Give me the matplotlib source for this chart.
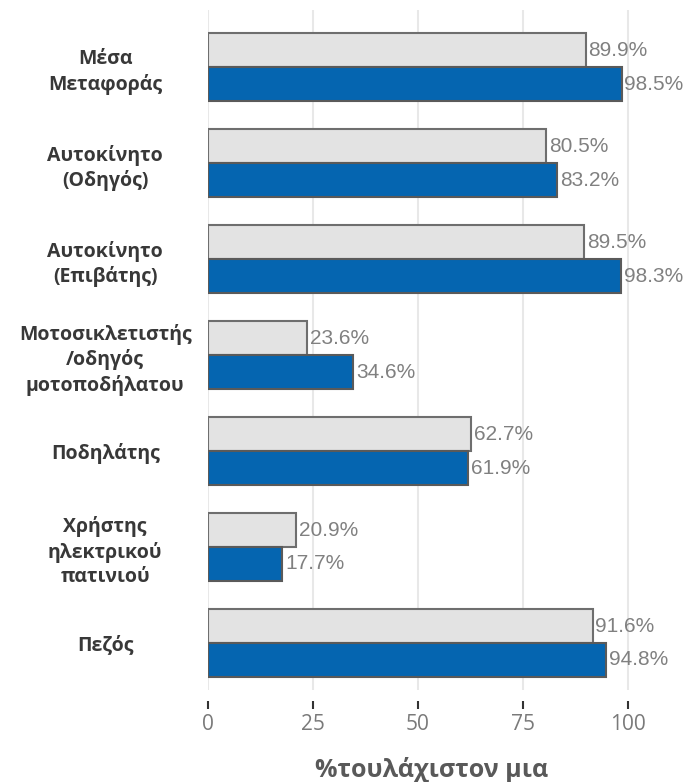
import numpy as np
import matplotlib.pyplot as plt

# Δεδομένα
categories = ['Μέσα\nΜεταφοράς', 'Αυτοκίνητο\n(Οδηγός)', 'Αυτοκίνητο\n(Επιβάτης)',
              'Μοτοσικλετιστής\n/οδηγός\nμοτοποδήλατου', 'Ποδηλάτης',
              'Χρήστης\nηλεκτρικού\nπατινιού', 'Πεζός']
gray_values = [89.9, 80.5, 89.5, 23.6, 62.7, 20.9, 91.6]
blue_values = [98.5, 83.2, 98.3, 34.6, 61.9, 17.7, 94.8]
xticks = [0, 25, 50, 75, 100]

fig = plt.figure(figsize=(6.95, 7.82), dpi=100)
ax = fig.add_axes([0.2993, 0.1176, 0.6647, 0.8696])

# οι άξονες πρώτα, γιατί το set_position μηδενίζει τα ticks
for s in ax.spines.values():
    s.set_visible(False)
ax.spines['bottom'].set_position(('outward', 8))

y = np.arange(len(categories))
h = 0.354

ax.barh(y - h / 2, gray_values, height=h, color='#e3e3e3',
        edgecolor='#6e6e6e', linewidth=1.5, zorder=3)
ax.barh(y + h / 2, blue_values, height=h, color='#0565b0',
        edgecolor='#5a5a5a', linewidth=1.5, zorder=3)

# Ετικέτες τιμών
for i in range(len(categories)):
    ax.annotate(f'{gray_values[i]}%', (gray_values[i], y[i] - h / 2),
                xytext=(2, 0), textcoords='offset points', va='center',
                ha='left', fontsize=15, color='#808080',
                family='Liberation Sans')
    ax.annotate(f'{blue_values[i]}%', (blue_values[i], y[i] + h / 2),
                xytext=(2, 0), textcoords='offset points', va='center',
                ha='left', fontsize=15, color='#808080',
                family='Liberation Sans')

ax.set_xlim(0, 110)
ax.set_ylim(6.49, -0.594)

ax.set_yticks(y)
ax.set_yticklabels(categories, fontsize=14, fontweight='bold', color='#383838',
                   family='Open Sans', ha='center', multialignment='center',
                   linespacing=1.3)
ax.tick_params(axis='y', length=0, pad=74)

ax.set_xticks(xticks)
ax.set_xticklabels([str(t) for t in xticks], fontsize=15, color='#7a7a7a',
                   family='Open Sans')
ax.tick_params(axis='x', length=6, width=1.5, color='#333333', pad=3)

ax.grid(axis='x', color='#e8e8e8', linewidth=1.5, zorder=0)
ax.set_axisbelow(True)

fig.text(432 / 695, 1 - 770 / 782, '%τουλάχιστον μια', ha='center', va='center',
         fontsize=18, fontweight='bold', color='#595959', family='Open Sans')

fig.savefig('out.png', dpi=100)
